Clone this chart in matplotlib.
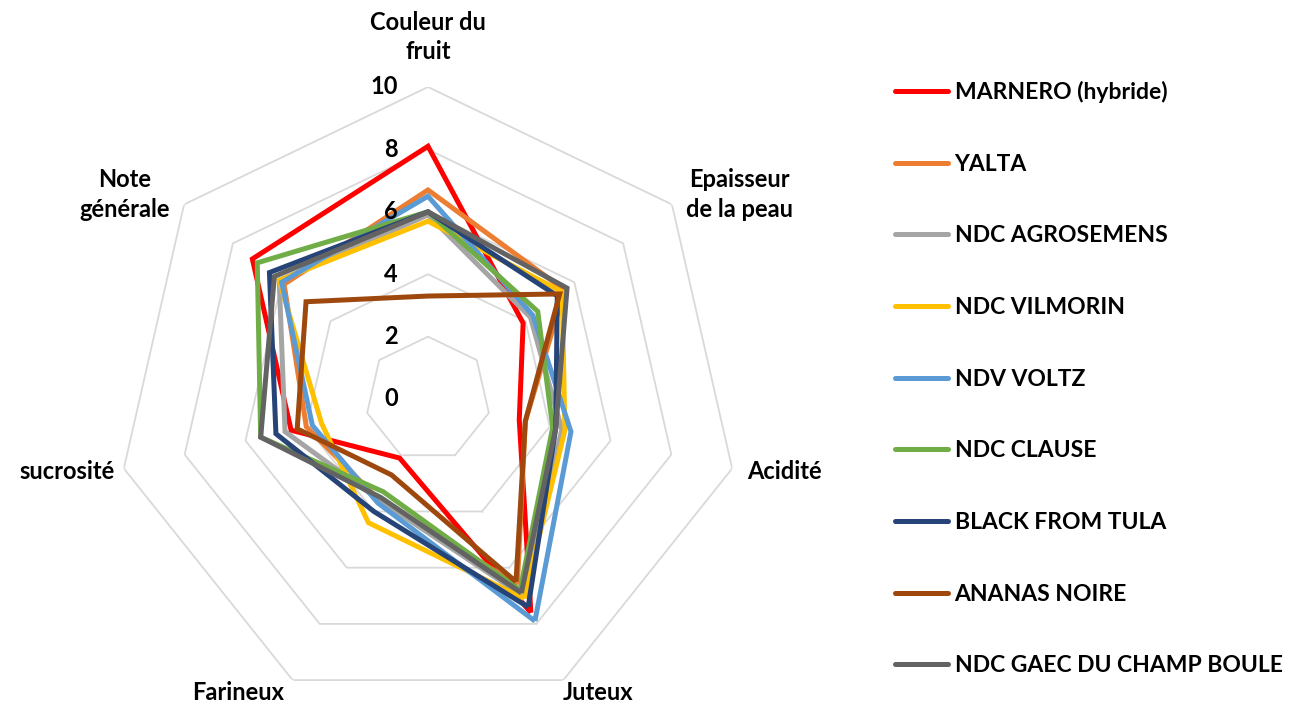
import numpy as np
import matplotlib.pyplot as plt

plt.rcParams['font.family'] = ['Lato', 'DejaVu Sans']
plt.rcParams['font.weight'] = 'bold'

categories = ['Couleur du\nfruit', 'Epaisseur\nde la peau', 'Acidité', 'Juteux',
              'Farineux', 'sucrosité', 'Note\ngénérale']
ring_values = [2, 4, 6, 8, 10]
tick_values = [0, 2, 4, 6, 8, 10]

names = ['MARNERO (hybride)', 'YALTA', 'NDC AGROSEMENS', 'NDC VILMORIN', 'NDV VOLTZ',
         'NDC CLAUSE', 'BLACK FROM TULA', 'ANANAS NOIRE', 'NDC GAEC DU CHAMP BOULE']
colors = ['#FF0000', '#ED7D31', '#A5A5A5', '#FFC000', '#5B9BD5',
          '#70AD47', '#264478', '#9E480E', '#636363']

# order: couleur, epaisseur, acidite, juteux, farineux, sucrosite, note generale
marnero = [8.1, 3.9, 3.0, 7.6, 2.1, 4.5, 7.2]
yalta = [6.7, 5.6, 3.2, 6.6, 3.6, 4.0, 5.9]
agrosemens = [5.9, 4.2, 4.4, 7.0, 3.6, 4.7, 6.1]
vilmorin = [5.7, 5.5, 4.5, 7.1, 4.4, 3.5, 6.1]
voltz = [6.5, 4.3, 4.7, 7.9, 3.7, 3.8, 6.0]
clause = [6.0, 4.5, 4.1, 6.8, 3.3, 5.5, 7.0]
black_tula = [6.0, 5.3, 4.2, 7.4, 4.0, 5.0, 6.5]
ananas_noire = [3.3, 5.4, 3.2, 6.5, 2.7, 4.3, 5.0]
gaec = [6.0, 5.7, 4.2, 6.9, 3.5, 5.5, 6.3]
series = [marnero, yalta, agrosemens, vilmorin, voltz, clause, black_tula, ananas_noire, gaec]

n = len(categories)
angles = np.arange(n) * 2 * np.pi / n
# closed path that starts at the Juteux corner so the seam sits on a sharp vertex
order = [3, 4, 5, 6, 0, 1, 2, 3]

fig = plt.figure(figsize=(12.96, 7.04), dpi=100, facecolor='w')
ax = fig.add_axes([116 / 1296, -7 / 704, 624 / 1296, 624 / 704], projection='polar')
ax.set_theta_zero_location('N')
ax.set_theta_direction(-1)
ax.set_ylim(0, 10)
ax.grid(False)
ax.spines['polar'].set_visible(False)
ax.set_xticks([])
ax.set_yticks([])
ax.patch.set_alpha(0)

# heptagon rings
for r in ring_values:
    ax.plot(angles[order], [r] * len(order), color='#d9d9d9', lw=1.3, zorder=1)

for vals, name, c in zip(series, names, colors):
    v = np.array(vals)
    ax.plot(angles[order], v[order], color=c, lw=3.6, label=name,
            solid_joinstyle='miter', solid_capstyle='butt', zorder=3)

# value labels along the top axis
for t in tick_values:
    ax.annotate(str(t), xy=(0, t), xytext=(-30, 0), textcoords='offset pixels',
                ha='right', va='center', fontsize=17, fontweight='bold')

# category labels
offsets = [(0, 50), (68, 10), (52, -3), (35, -12), (-55, -12), (-57, -3), (-59, 10)]
for a, lab, off in zip(angles, categories, offsets):
    ax.annotate(lab, xy=(a, 10), xytext=off, textcoords='offset pixels',
                ha='center', va='center', fontsize=17, fontweight='bold',
                linespacing=1.35)

leg = fig.legend(loc='upper left', bbox_to_anchor=(895 / 1296, 1 - 81 / 704),
                 frameon=False, fontsize=16.5, handlelength=2.3, handletextpad=0.3,
                 labelspacing=2.21, borderaxespad=0, borderpad=0)
for line in leg.get_lines():
    line.set_linewidth(3.6)
    line.set_solid_capstyle('round')

fig.savefig('out.png', dpi=100)
